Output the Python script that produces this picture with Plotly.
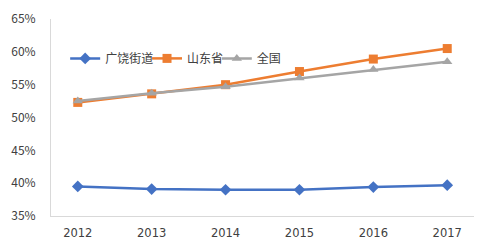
import plotly.graph_objects as go

years = ["2012", "2013", "2014", "2015", "2016", "2017"]
guangrao = [39.5, 39.1, 39.0, 39.0, 39.4, 39.7]
shandong = [52.3, 53.6, 55.0, 57.0, 58.9, 60.5]
national = [52.5, 53.7, 54.7, 56.0, 57.3, 58.5]
yticks = [35, 40, 45, 50, 55, 60, 65]

fig = go.Figure()
fig.add_trace(go.Scatter(x=years, y=guangrao, name="广饶街道", mode="lines+markers",
                         line=dict(color="#4472C4", width=2.5), legend="legend",
                         marker=dict(symbol="diamond", size=9, color="#4472C4")))
fig.add_trace(go.Scatter(x=years, y=shandong, name="山东省", mode="lines+markers",
                         line=dict(color="#ED7D31", width=2.5), legend="legend2",
                         marker=dict(symbol="square", size=9, color="#ED7D31")))
fig.add_trace(go.Scatter(x=years, y=national, name="全国", mode="lines+markers",
                         line=dict(color="#A5A5A5", width=2.5), legend="legend3",
                         marker=dict(symbol="triangle-up", size=9, color="#A5A5A5")))

leg_common = dict(orientation="h", y=0.80, xanchor="left", yanchor="middle",
                  bgcolor="rgba(0,0,0,0)", font=dict(size=12, color="#404040"),
                  itemwidth=30, borderwidth=0)

fig.update_layout(
    width=489, height=240,
    margin=dict(l=51, r=15, t=19, b=24, autoexpand=False),
    paper_bgcolor="white", plot_bgcolor="white",
    font=dict(family="Noto Sans CJK SC", size=12, color="#404040"),
    showlegend=True,
    legend=dict(x=0.0335, **leg_common),
    legend2=dict(x=0.227, **leg_common),
    legend3=dict(x=0.392, **leg_common),
)
fig.update_xaxes(type="category", showline=True, linecolor="#D9D9D9", linewidth=1,
                 showgrid=False, zeroline=False, ticks="", ticklabelstandoff=6,
                 automargin=False,
                 tickfont=dict(family="DejaVu Sans", size=11.5, color="#404040"))
fig.update_yaxes(range=[35, 65], tickvals=yticks, ticktext=[f"{v}%" for v in yticks],
                 showline=True, linecolor="#D9D9D9", linewidth=1,
                 showgrid=False, zeroline=False, ticks="", ticklabelstandoff=12,
                 automargin=False,
                 tickfont=dict(size=12, color="#404040"))

fig.write_html("out.html")
